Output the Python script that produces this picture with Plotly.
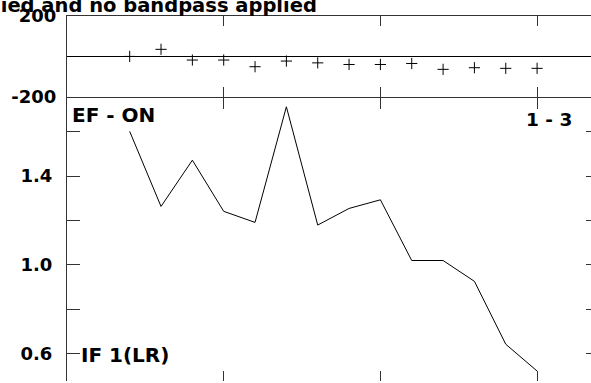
import plotly.graph_objects as go

# ---- data ----
x_pos = [2, 3, 4, 5, 6, 7, 8, 9, 10, 11, 12, 13, 14, 15]
phase_vals = [0, 35, -18, -18, -51, -23, -32, -40, -40, -35, -64, -56, -59, -59]
amp_vals = [1.602, 1.263, 1.472, 1.241, 1.191, 1.713, 1.179, 1.254, 1.293,
            1.019, 1.019, 0.925, 0.641, 0.520]
top_ticks = [-200, 200]
top_ticktext = ["-200", "200"]
bot_ticks = [0.6, 0.8, 1.0, 1.2, 1.4, 1.6]
bot_ticktext = ["0.6", "", "1.0", "", "1.4", ""]
x_ticks = [0, 5, 10, 15]

title_text = "Data: EF filter applied and no bandpass applied"
label_top_left = "EF - ON"
label_top_right = "1 - 3"
label_bottom = "IF 1(LR)"

FONT = "DejaVu Sans"
LINE = "#333333"
W = 591
REF_H = 383
H = 391
S = H / REF_H
L, R = 67, 0
T = round(16 * S)
B = 0
pw, ph = W - L - R, H - T - B
split = 1 - (97 * S - T) / ph
XR = [0, 16.72]

def px(xp):
    return (xp - L) / pw

def py(yp):
    return (H - B - yp * S) / ph

fig = go.Figure()
fig.add_trace(go.Scatter(x=x_pos, y=phase_vals, mode="markers", xaxis="x2", yaxis="y2",
                         marker=dict(symbol="cross-thin", size=8, line=dict(width=1, color="black")),
                         showlegend=False, hoverinfo="skip"))
fig.add_trace(go.Scatter(x=x_pos, y=amp_vals, mode="lines", xaxis="x", yaxis="y",
                         line=dict(color="black", width=1), showlegend=False, hoverinfo="skip"))
fig.add_trace(go.Scatter(x=[x_pos[0]], y=[amp_vals[0]], xaxis="x3", yaxis="y", mode="markers",
                         marker=dict(opacity=0), showlegend=False, hoverinfo="skip"))
fig.add_trace(go.Scatter(x=[x_pos[0]], y=[amp_vals[0]], xaxis="x", yaxis="y3", mode="markers",
                         marker=dict(opacity=0), showlegend=False, hoverinfo="skip"))

tickfont = dict(family=FONT, size=18, color="black", weight="bold")

fig.update_layout(
    width=W, height=H, autosize=False, margin=dict(l=L, r=R, t=T, b=B, pad=0),
    paper_bgcolor="white", plot_bgcolor="white",
    xaxis=dict(domain=[0, 1], range=XR, anchor="y", tickvals=x_ticks, showticklabels=False,
               ticks="inside", ticklen=10, tickcolor=LINE, showline=False, showgrid=False,
               zeroline=False, fixedrange=True),
    xaxis2=dict(domain=[0, 1], range=XR, anchor="y2", tickvals=x_ticks, showticklabels=False,
                ticks="inside", ticklen=10, tickcolor=LINE, showline=True, linecolor=LINE,
                mirror="ticks", showgrid=False, zeroline=False),
    xaxis3=dict(range=XR, overlaying="x", anchor="y", side="top", tickvals=x_ticks,
                showticklabels=False, ticks="inside", ticklen=12, tickcolor=LINE,
                showline=False, showgrid=False, zeroline=False),
    yaxis=dict(domain=[0, split], range=[0.475, 1.758], anchor="x", tickvals=bot_ticks,
               ticktext=bot_ticktext, ticks="inside", ticklen=13, tickcolor=LINE,
               showline=True, linecolor=LINE, showgrid=False, zeroline=False,
               tickfont=tickfont, ticklabelstandoff=10),
    yaxis3=dict(range=[0.475, 1.758], overlaying="y", anchor="x", side="right",
                tickvals=bot_ticks, showticklabels=False, ticks="inside", ticklen=5,
                tickcolor=LINE, showline=False, showgrid=False, zeroline=False),
    yaxis2=dict(domain=[split, 1], range=[-200, 200], anchor="x2", tickvals=top_ticks,
                ticktext=top_ticktext, ticks="inside", ticklen=9, tickcolor=LINE,
                showline=True, linecolor=LINE, showgrid=False, zeroline=True,
                zerolinecolor="black", zerolinewidth=1, tickfont=tickfont,
                ticklabelstandoff=6),
    annotations=[
        dict(text=title_text, xref="paper", yref="paper", x=px(319), y=1.0, yshift=-3,
             xanchor="right", yanchor="bottom", showarrow=False,
             font=dict(family=FONT, size=19.5, color="black", weight="bold")),
        dict(text=label_top_left, xref="paper", yref="paper", x=px(70), y=py(115.5),
             xanchor="left", yanchor="middle", showarrow=False,
             font=dict(family=FONT, size=20, color="black", weight="bold")),
        dict(text=label_top_right, xref="paper", yref="paper", x=px(574), y=py(120),
             xanchor="right", yanchor="middle", showarrow=False,
             font=dict(family=FONT, size=18.5, color="black", weight="bold")),
        dict(text=label_bottom, xref="paper", yref="paper", x=px(79), y=py(357),
             xanchor="left", yanchor="middle", showarrow=False,
             font=dict(family=FONT, size=20, color="black", weight="bold")),
    ],
)

post = ("document.documentElement.style.margin='0';document.body.style.margin='0';"
        "document.body.style.padding='0';document.body.style.overflow='hidden';"
        "document.documentElement.style.overflow='hidden';")
fig.write_html("out.html", config={"displayModeBar": False, "responsive": False},
               post_script=post)
